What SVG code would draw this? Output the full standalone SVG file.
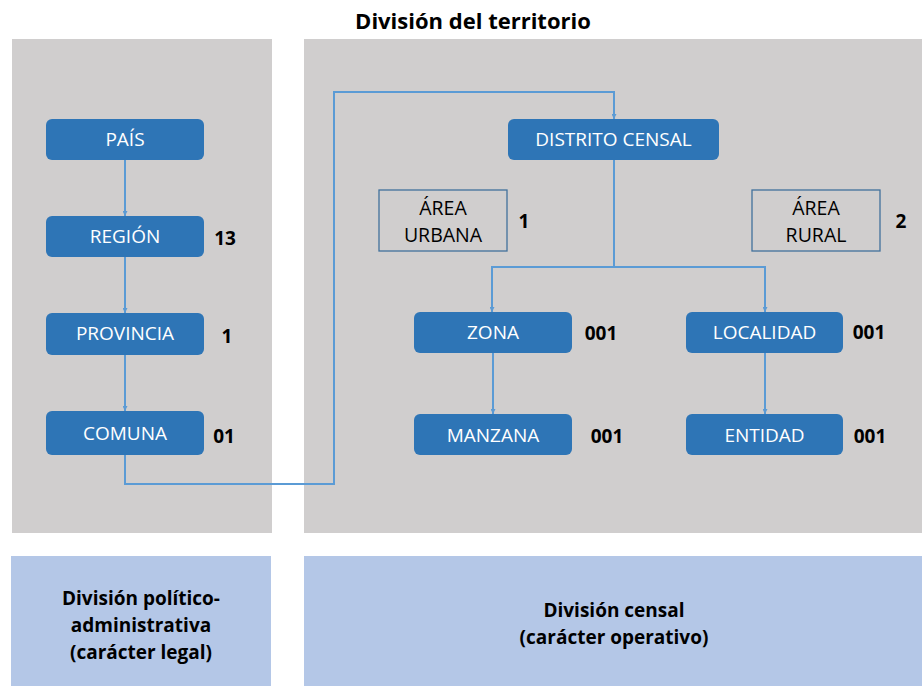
<svg xmlns="http://www.w3.org/2000/svg" width="922" height="686" viewBox="0 0 922 686">
<defs>
<marker id="arr" viewBox="0 0 10 10" refX="10" refY="5" markerWidth="5" markerHeight="5" orient="auto" markerUnits="userSpaceOnUse">
<path d="M0,0 L10,5 L0,10 z" fill="#5b9bd5"/>
</marker>
<style>
.panel{fill:#d0cece}
.foot{fill:#b4c7e7}
.node rect{fill:#2e75b6}
.node text{fill:#ffffff;font-family:"Open Sans","Noto Sans",sans-serif;font-size:19px;text-anchor:middle}
.area rect{fill:none;stroke:#41719c;stroke-width:1.3}
.area text{fill:#000;font-family:"Open Sans","Noto Sans",sans-serif;font-size:19.5px;text-anchor:middle}
.num{fill:#000;font-family:"Open Sans","Noto Sans",sans-serif;font-size:19px;font-weight:bold;text-anchor:middle}
.title{font-family:"Open Sans","Noto Sans",sans-serif;font-size:22px;font-weight:bold;text-anchor:middle;fill:#000}
.ft{font-family:"Open Sans","Noto Sans",sans-serif;font-size:19px;font-weight:bold;text-anchor:middle;fill:#000}
.conn path{fill:none;stroke:#5b9bd5;stroke-width:2}
</style>
</defs>
<rect width="922" height="686" fill="#ffffff"/>
<text class="title" x="473" y="29">División del territorio</text>
<rect class="panel" x="12" y="39" width="260" height="494"/>
<rect class="panel" x="304" y="39" width="618" height="494"/>
<rect class="foot" x="11" y="556" width="260" height="130"/>
<rect class="foot" x="304" y="556" width="618" height="130"/>
<text class="ft" x="141" y="605">División político-</text>
<text class="ft" x="141" y="632">administrativa</text>
<text class="ft" x="141" y="659">(carácter legal)</text>
<text class="ft" x="614" y="617">División censal</text>
<text class="ft" x="614" y="644">(carácter operativo)</text>

<g class="conn">
<path d="M125,160 V216" marker-end="url(#arr)"/>
<path d="M125,257 V313" marker-end="url(#arr)"/>
<path d="M125,355 V411" marker-end="url(#arr)"/>
<path d="M125,455 V484 H334 V92 H614 V119" marker-end="url(#arr)"/>
<path d="M614,160 V267 H492 V312" marker-end="url(#arr)"/>
<path d="M614,267 H765 V312" marker-end="url(#arr)"/>
<path d="M493,353 V414" marker-end="url(#arr)"/>
<path d="M765,353 V414" marker-end="url(#arr)"/>
</g>

<g id="pais" class="node"><rect x="46" y="119" width="158" height="41" rx="6"/><text x="125" y="146">PAÍS</text></g>
<g id="region" class="node"><rect x="46" y="216" width="158" height="41" rx="6"/><text x="125" y="243">REGIÓN</text></g>
<text class="num" x="225" y="245">13</text>
<g id="provincia" class="node"><rect x="46" y="313" width="158" height="42" rx="6"/><text x="125" y="340">PROVINCIA</text></g>
<text class="num" x="227" y="343">1</text>
<g id="comuna" class="node"><rect x="46" y="411" width="158" height="44" rx="6"/><text x="125" y="440">COMUNA</text></g>
<text class="num" x="224" y="443">01</text>

<g id="distrito" class="node"><rect x="508" y="119" width="211" height="41" rx="6"/><text x="613.5" y="146">DISTRITO CENSAL</text></g>
<g id="urbana" class="area"><rect x="379" y="190" width="128" height="61"/><text x="443" y="215">ÁREA</text><text x="443" y="242">URBANA</text></g>
<text class="num" x="524" y="228">1</text>
<g id="rural" class="area"><rect x="752" y="190" width="128" height="61"/><text x="816" y="215">ÁREA</text><text x="816" y="242">RURAL</text></g>
<text class="num" x="901" y="228">2</text>

<g id="zona" class="node"><rect x="414" y="312" width="158" height="41" rx="6"/><text x="493" y="339">ZONA</text></g>
<text class="num" x="601" y="340">001</text>
<g id="localidad" class="node"><rect x="686" y="312" width="157" height="41" rx="6"/><text x="764.5" y="339">LOCALIDAD</text></g>
<text class="num" x="869" y="339">001</text>
<g id="manzana" class="node"><rect x="414" y="414" width="158" height="41" rx="6"/><text x="493" y="442">MANZANA</text></g>
<text class="num" x="607" y="443">001</text>
<g id="entidad" class="node"><rect x="686" y="414" width="157" height="41" rx="6"/><text x="764.5" y="442">ENTIDAD</text></g>
<text class="num" x="870" y="443">001</text>
</svg>
